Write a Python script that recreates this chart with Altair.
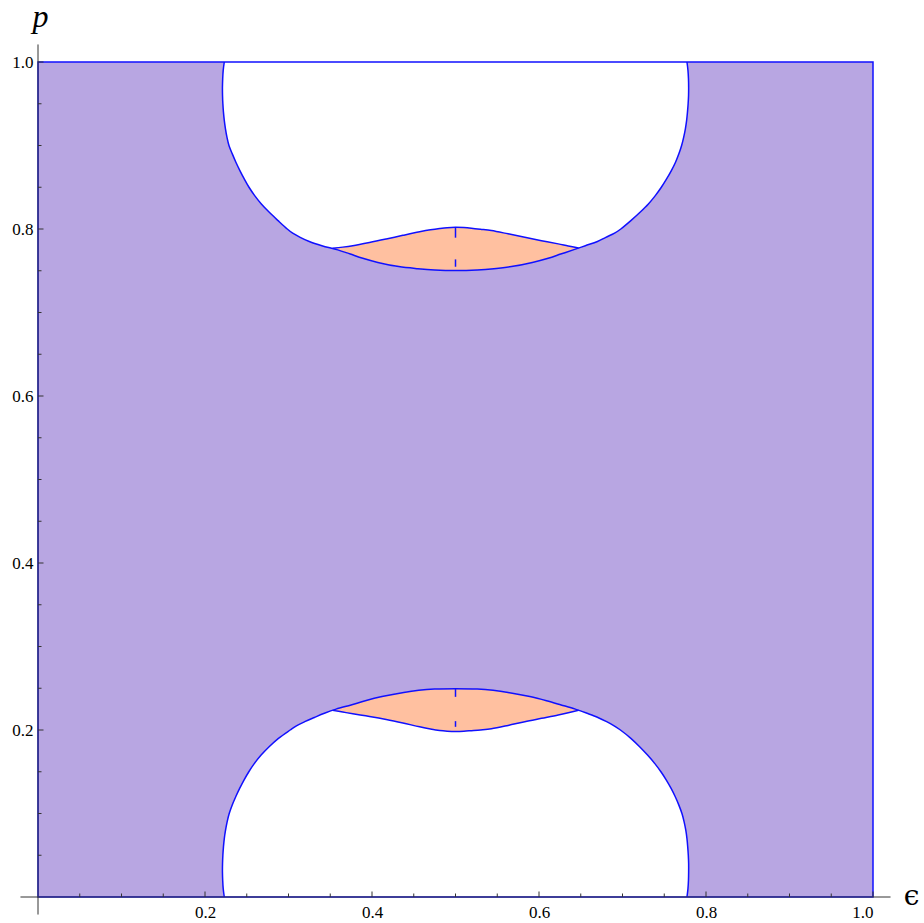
import altair as alt
import pandas as pd

# ---------------- data ----------------
SQUARE_EPS = [0.0, 1.0]
SQUARE_P = [0.0, 1.0]

# top white hole: left / right boundary (epsilon) at given p levels
TOP_P = [1.000, 0.990, 0.980, 0.970, 0.960, 0.950, 0.940, 0.930, 0.920, 0.910,
         0.900, 0.890, 0.880, 0.870, 0.860, 0.850, 0.840, 0.830, 0.820, 0.810,
         0.800, 0.795, 0.790, 0.785, 0.780, 0.775, 0.770, 0.765, 0.760, 0.755,
         0.7525, 0.751, 0.7503]
TOP_EPS_LEFT = [0.2231, 0.2218, 0.2212, 0.2209, 0.2210, 0.2214, 0.2221, 0.2231, 0.2245, 0.2263,
                0.2287, 0.2327, 0.2370, 0.2418, 0.2470, 0.2527, 0.2595, 0.2675, 0.2770, 0.2875,
                0.2985, 0.3050, 0.3140, 0.3249, 0.3400, 0.3590, 0.3740, 0.3890, 0.4070, 0.4320,
                0.4550, 0.4750, 0.5000]
TOP_EPS_RIGHT = [0.7772, 0.7784, 0.7790, 0.7792, 0.7791, 0.7786, 0.7778, 0.7768, 0.7753, 0.7733,
                 0.7708, 0.7675, 0.7635, 0.7585, 0.7528, 0.7465, 0.7393, 0.7310, 0.7210, 0.7100,
                 0.6980, 0.6905, 0.6800, 0.6700, 0.6555, 0.6410, 0.6260, 0.6110, 0.5920, 0.5670,
                 0.5460, 0.5260, 0.5000]

# bottom white hole
BOT_P = [0.000, 0.010, 0.020, 0.030, 0.040, 0.050, 0.060, 0.070, 0.080, 0.090,
         0.100, 0.110, 0.120, 0.130, 0.140, 0.150, 0.160, 0.170, 0.180, 0.190,
         0.200, 0.205, 0.210, 0.215, 0.220, 0.225, 0.230, 0.235, 0.240, 0.245,
         0.2475, 0.249, 0.2495]
BOT_EPS_LEFT = [0.2231, 0.2218, 0.2212, 0.2209, 0.2210, 0.2214, 0.2221, 0.2231, 0.2246, 0.2265,
                0.2290, 0.2325, 0.2368, 0.2415, 0.2467, 0.2525, 0.2592, 0.2672, 0.2768, 0.2880,
                0.3020, 0.3095, 0.3195, 0.3310, 0.3430, 0.3570, 0.3750, 0.3920, 0.4120, 0.4380,
                0.4560, 0.4750, 0.5000]
BOT_EPS_RIGHT = [0.7772, 0.7784, 0.7790, 0.7792, 0.7792, 0.7788, 0.7781, 0.7772, 0.7758, 0.7738,
                 0.7712, 0.7675, 0.7632, 0.7582, 0.7525, 0.7460, 0.7385, 0.7300, 0.7205, 0.7100,
                 0.6975, 0.6900, 0.6810, 0.6705, 0.6575, 0.6435, 0.6265, 0.6090, 0.5890, 0.5630,
                 0.5450, 0.5260, 0.5000]

# orange lenses
LENS_EPS = [0.3528, 0.365, 0.377, 0.397, 0.417, 0.437, 0.457, 0.470, 0.481, 0.490, 0.500,
            0.510, 0.519, 0.530, 0.543, 0.563, 0.583, 0.603, 0.623, 0.635, 0.6474]
TOP_LENS_LOW = [0.7770, 0.7727, 0.7690, 0.7630, 0.7580, 0.7545, 0.7523, 0.7513, 0.7508, 0.7505, 0.7503,
                0.7505, 0.7507, 0.7513, 0.7522, 0.7545, 0.7582, 0.7629, 0.7690, 0.7730, 0.7773]
TOP_LENS_HIGH = [0.7770, 0.7783, 0.7800, 0.7838, 0.7880, 0.7924, 0.7966, 0.7990, 0.8006, 0.8016, 0.8020,
                 0.8017, 0.8010, 0.7998, 0.7982, 0.7942, 0.7900, 0.7860, 0.7822, 0.7797, 0.7773]
BOT_LENS_HIGH = [0.2235, 0.2270, 0.2305, 0.2362, 0.2410, 0.2448, 0.2476, 0.2485, 0.2491, 0.2493, 0.2495,
                 0.2493, 0.2492, 0.2488, 0.2479, 0.2450, 0.2412, 0.2365, 0.2310, 0.2275, 0.2237]
BOT_LENS_LOW = [0.2235, 0.2215, 0.2194, 0.2162, 0.2126, 0.2084, 0.2038, 0.2012, 0.1994, 0.1986, 0.1982,
                0.1985, 0.1992, 0.2001, 0.2015, 0.2055, 0.2100, 0.2140, 0.2180, 0.2207, 0.2237]

# small vertical artefacts at epsilon = 0.5
CUSP_EPS = [0.5, 0.5, 0.5, 0.5]
CUSP_P_FROM = [0.8020, 0.7636, 0.2495, 0.2106]
CUSP_P_TO = [0.7896, 0.7548, 0.2397, 0.2038]

# ticks
MAJOR_TICKS = [0.2, 0.4, 0.6, 0.8, 1.0]
MINOR_TICKS = [0.05, 0.1, 0.15, 0.25, 0.3, 0.35, 0.45, 0.5, 0.55, 0.65, 0.7,
               0.75, 0.85, 0.9, 0.95]
AXIS_RANGE = [-0.021, 1.021]

# ---------------- styling ----------------
PURPLE = "#b8a6e2"
ORANGE = "#ffc0a0"
BLUE = "#1010ff"
AXIS_COLOR = "#333333"
FONT = "Liberation Serif"

W = 835
H = 835

xscale = alt.Scale(domain=[0, 1], nice=False, zero=False)
yscale = alt.Scale(domain=[0, 1], nice=False, zero=False)

xaxis = alt.Axis(values=MAJOR_TICKS, format=".1f", title="ϵ", grid=False, domain=False,
                 ticks=False, tickSize=0, labelPadding=7,
                 labelFont=FONT, labelFontSize=17, labelColor="black",
                 titleFont="DejaVu Serif", titleFontSize=28,
                 titleFontWeight="normal", titleX=873, titleY=7, titleAlign="center",
                 titleBaseline="alphabetic", titleAngle=0, titleColor="black")
yaxis = alt.Axis(values=MAJOR_TICKS, format=".1f", title="p", grid=False, domain=False,
                 ticks=False, tickSize=0, labelPadding=5,
                 labelFont=FONT, labelFontSize=17, labelColor="black",
                 titleFont=FONT, titleFontSize=32, titleFontStyle="italic",
                 titleFontWeight="normal", titleX=2, titleY=-36, titleAlign="center",
                 titleBaseline="alphabetic", titleAngle=0, titleColor="black")


def X(field, **kw):
    return alt.X(field, type="quantitative", scale=xscale, axis=xaxis, **kw)


def Y(field, **kw):
    return alt.Y(field, type="quantitative", scale=yscale, axis=yaxis, **kw)


sq_df = pd.DataFrame({"x0": [SQUARE_EPS[0]], "x1": [SQUARE_EPS[1]],
                      "y0": [SQUARE_P[0]], "y1": [SQUARE_P[1]]})
top_df = pd.DataFrame({"p": TOP_P, "el": TOP_EPS_LEFT, "er": TOP_EPS_RIGHT})
bot_df = pd.DataFrame({"p": BOT_P, "el": BOT_EPS_LEFT, "er": BOT_EPS_RIGHT})
top_lens = pd.DataFrame({"e": LENS_EPS, "lo": TOP_LENS_LOW, "hi": TOP_LENS_HIGH})
bot_lens = pd.DataFrame({"e": LENS_EPS, "lo": BOT_LENS_LOW, "hi": BOT_LENS_HIGH})

rows = []


def add_path(name, xs, ys):
    for i, (a, b) in enumerate(zip(xs, ys)):
        rows.append({"seg": name, "o": i, "e": a, "p": b})


add_path("top_hole", TOP_EPS_LEFT + TOP_EPS_RIGHT[::-1][1:], TOP_P + TOP_P[::-1][1:])
add_path("bot_hole", BOT_EPS_LEFT + BOT_EPS_RIGHT[::-1][1:], BOT_P + BOT_P[::-1][1:])
add_path("top_lens", LENS_EPS, TOP_LENS_HIGH)
add_path("bot_lens", LENS_EPS, BOT_LENS_LOW)
lines_df = pd.DataFrame(rows)

cusp_df = pd.DataFrame({"e": CUSP_EPS, "p1": CUSP_P_FROM, "p2": CUSP_P_TO})

axis_df = pd.DataFrame({"a0": [AXIS_RANGE[0]], "a1": [AXIS_RANGE[1]], "z": [0.0]})
major_df = pd.DataFrame({"v": MAJOR_TICKS, "z": [0.0] * len(MAJOR_TICKS)})
minor_df = pd.DataFrame({"v": MINOR_TICKS, "z": [0.0] * len(MINOR_TICKS)})

purple = alt.Chart(sq_df).mark_rect(color=PURPLE).encode(
    x=X("x0"), x2="x1", y=Y("y0"), y2="y1")

hole_top = alt.Chart(top_df).mark_area(orient="horizontal", color="white", opacity=1,
                                       interpolate="monotone").encode(
    y=Y("p"), x=X("el"), x2="er")
hole_bot = alt.Chart(bot_df).mark_area(orient="horizontal", color="white", opacity=1,
                                       interpolate="monotone").encode(
    y=Y("p"), x=X("el"), x2="er")

lens_top = alt.Chart(top_lens).mark_area(color=ORANGE, opacity=1, interpolate="monotone").encode(
    x=X("e"), y=Y("lo"), y2="hi")
lens_bot = alt.Chart(bot_lens).mark_area(color=ORANGE, opacity=1, interpolate="monotone").encode(
    x=X("e"), y=Y("lo"), y2="hi")

bounds = alt.Chart(lines_df).mark_line(color=BLUE, strokeWidth=1.5, strokeJoin="round",
                                       interpolate="catmull-rom").encode(
    x=X("e"), y=Y("p"), order="o:Q", detail="seg:N")

cusps = alt.Chart(cusp_df).mark_rule(color=BLUE, strokeWidth=1.5).encode(
    x=X("e"), y=Y("p1"), y2="p2")

frame = alt.Chart(sq_df).mark_rect(fillOpacity=0, stroke=BLUE, strokeWidth=1.5).encode(
    x=X("x0"), x2="x1", y=Y("y0"), y2="y1")

x_axis_line = alt.Chart(axis_df).mark_rule(color=AXIS_COLOR, strokeWidth=1).encode(
    x=X("a0"), x2="a1", y=Y("z"))
y_axis_line = alt.Chart(axis_df).mark_rule(color=AXIS_COLOR, strokeWidth=1).encode(
    y=Y("a0"), y2="a1", x=X("z"))

x_major = alt.Chart(major_df).mark_rule(color=AXIS_COLOR, strokeWidth=1, y2Offset=-5.5).encode(
    x=X("v"), y=Y("z"), y2="z")
x_minor = alt.Chart(minor_df).mark_rule(color=AXIS_COLOR, strokeWidth=1, y2Offset=-3.5).encode(
    x=X("v"), y=Y("z"), y2="z")
y_major = alt.Chart(major_df).mark_rule(color=AXIS_COLOR, strokeWidth=1, x2Offset=5.5).encode(
    y=Y("v"), x=X("z"), x2="z")
y_minor = alt.Chart(minor_df).mark_rule(color=AXIS_COLOR, strokeWidth=1, x2Offset=3.5).encode(
    y=Y("v"), x=X("z"), x2="z")

chart = alt.layer(
    purple, hole_top, hole_bot, lens_top, lens_bot, bounds, cusps, frame,
    x_axis_line, y_axis_line, x_major, x_minor, y_major, y_minor
).properties(
    width=W, height=H,
    autosize=alt.AutoSizeParams(type="none"),
    padding={"left": 38, "top": 62, "right": 51, "bottom": 26},
    background="white",
).configure_view(
    stroke=None
).configure_axis(
    labelFont=FONT, labelFontSize=17, labelColor="black"
)

chart.save("out.html", embed_options={"renderer": "svg", "actions": False})
